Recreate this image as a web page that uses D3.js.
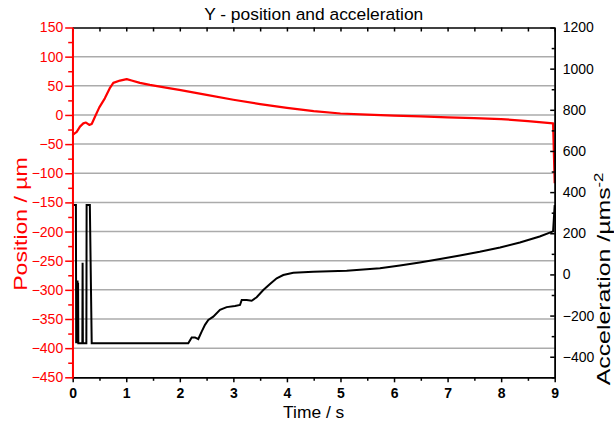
<!DOCTYPE html>
<html>
<head>
<meta charset="utf-8">
<script src="https://cdn.jsdelivr.net/npm/d3@7"></script>
<style>
  html, body { margin: 0; padding: 0; background: #fff; }
  svg { display: block; font-family: "Liberation Sans", Arial, sans-serif; }
</style>
</head>
<body>
<svg id="chart" width="614" height="426"></svg>
<script>
// Y position (µm) sampled over time (s)
const posTime = [0, 0.075, 0.136, 0.198, 0.248, 0.31, 0.355, 0.416, 0.497, 0.60, 0.69, 0.758, 0.883,
  1.008, 1.10, 1.255, 1.44, 1.63, 1.82, 1.99, 2.5, 3.0, 3.5, 4.0, 4.5, 5.0, 5.5, 6.0, 6.5, 7.0,
  7.5, 8.0, 8.5, 8.97, 9.0];
const posValue = [-34, -29, -20, -14.5, -13, -17, -15.5, -3, 13, 28.5, 45.5, 55, 59,
  61.5, 59, 55, 51.5, 48.5, 45.5, 43, 34.5, 26, 18.5, 12, 6.5, 2.5, 0.5, -1, -2.5, -4,
  -5.5, -7, -10.5, -14.5, -117];

// Y acceleration (µm s^-2) sampled over time (s)
const accTime = [0, 0.06, 0.065, 0.07, 0.075, 0.08, 0.085, 0.09, 0.095, 0.10, 0.105, 0.18, 0.185, 0.19,
  0.255, 0.26, 0.32, 0.355, 2.158, 2.222, 2.283, 2.345, 2.408, 2.470, 2.532, 2.625, 2.750, 2.875,
  3.030, 3.124, 3.156, 3.249, 3.342, 3.435, 3.559, 3.684, 3.809, 3.932, 4.119, 4.492, 5.116, 5.737,
  6.11, 6.48, 6.86, 7.23, 7.60, 7.98, 8.35, 8.72, 8.97, 9.0];
const accValue = [337, 337, -335, -40, -335, -35, -335, -30, -335, -40, -335, -335, 57, -335,
  -335, 337, 337, -335, -335, -306, -306, -314, -278, -245, -221, -205, -172, -159,
  -153, -148.5, -124, -124, -128, -111, -76, -47, -19, -3, 8, 13, 18, 30,
  43, 58, 75, 92, 110, 131, 155, 184, 209, 337];

// Axis tick values
const timeTicks = [0, 1, 2, 3, 4, 5, 6, 7, 8, 9];
const posTicks = [150, 100, 50, 0, -50, -100, -150, -200, -250, -300, -350, -400, -450];
const accTicks = [1200, 1000, 800, 600, 400, 200, 0, -200, -400];

const W = 614, H = 426;
const m = { left: 72.7, right: 59.3, top: 27.5, bottom: 48.7 };
const x0 = m.left, x1 = W - m.right, y0 = m.top, y1 = H - m.bottom;

const svg = d3.select("#chart");
const x = d3.scaleLinear().domain([0, 9]).range([x0, x1]);
const yL = d3.scaleLinear().domain([-450, 150]).range([y1, y0]);
const yR = d3.scaleLinear().domain([-500, 1200]).range([y1, y0]);

// horizontal grid at the major position ticks
svg.append("g")
  .selectAll("line")
  .data(posTicks.filter(v => v > -450 && v < 150))
  .join("line")
  .attr("x1", x0).attr("x2", x1)
  .attr("y1", d => yL(d)).attr("y2", d => yL(d))
  .attr("stroke", "#ababab").attr("stroke-width", 1.5);

// data lines
const accLine = d3.line().x((d, i) => x(accTime[i])).y(d => yR(d));
svg.append("path")
  .attr("d", accLine(accValue))
  .attr("fill", "none").attr("stroke", "#000").attr("stroke-width", 2)
  .attr("stroke-linejoin", "miter");

const posLine = d3.line().x((d, i) => x(posTime[i])).y(d => yL(d));
svg.append("path")
  .attr("d", posLine(posValue))
  .attr("fill", "none").attr("stroke", "#ff0000").attr("stroke-width", 2.2)
  .attr("stroke-linejoin", "round");

function styleAxis(g, color, fontSize, weight) {
  g.select(".domain").attr("stroke", color).attr("stroke-width", 1.5);
  g.selectAll(".tick line").attr("stroke", color).attr("stroke-width", 1.5);
  g.selectAll(".tick text").attr("fill", color)
    .style("font-size", fontSize + "px").style("font-weight", weight)
    .style("font-family", '"Liberation Sans", Arial, sans-serif');
}

// top frame with inward ticks
const gTop = svg.append("g").attr("transform", `translate(0,${y0})`)
  .call(d3.axisTop(x).tickValues(d3.range(0, 9.01, 0.5)).tickSize(-4).tickSizeOuter(0).tickFormat(""));
styleAxis(gTop, "#000", 14, "normal");

// bottom time axis
const gBotMinor = svg.append("g").attr("transform", `translate(0,${y1})`)
  .call(d3.axisBottom(x).tickValues(d3.range(0.5, 9, 1)).tickSize(3.5).tickSizeOuter(0).tickFormat(""));
styleAxis(gBotMinor, "#000", 14, "normal");
const gBot = svg.append("g").attr("transform", `translate(0,${y1})`)
  .call(d3.axisBottom(x).tickValues(timeTicks).tickSize(5).tickSizeOuter(0).tickPadding(6).tickFormat(d3.format("d")));
styleAxis(gBot, "#000", 14, "bold");

// right acceleration axis (inward ticks)
const gRMinor = svg.append("g").attr("transform", `translate(${x1},0)`)
  .call(d3.axisRight(yR).tickValues(d3.range(-500, 1200, 200)).tickSize(-3).tickSizeOuter(0).tickFormat(""));
styleAxis(gRMinor, "#000", 14, "normal");
const gR = svg.append("g").attr("transform", `translate(${x1},0)`)
  .call(d3.axisRight(yR).tickValues(accTicks).tickSize(-4.5).tickSizeOuter(0).tickPadding(8).tickFormat(d3.format("d")));
styleAxis(gR, "#000", 14, "normal");

// left position axis (red, outward ticks)
const gLMinor = svg.append("g").attr("transform", `translate(${x0},0)`)
  .call(d3.axisLeft(yL).tickValues(d3.range(-425, 150, 50)).tickSize(4.5).tickSizeOuter(0).tickFormat(""));
styleAxis(gLMinor, "#ff0000", 14, "normal");
const gL = svg.append("g").attr("transform", `translate(${x0},0)`)
  .call(d3.axisLeft(yL).tickValues(posTicks).tickSize(7.5).tickSizeOuter(0).tickPadding(2).tickFormat(d3.format("d")));
styleAxis(gL, "#ff0000", 14, "normal");
gL.select(".domain").attr("d", `M0,${y0}V${y1 + 2}`);

// titles
svg.append("text")
  .attr("x", (x0 + x1) / 2).attr("y", 20)
  .attr("text-anchor", "middle")
  .style("font-size", "17.4px").attr("fill", "#000")
  .text("Y - position and acceleration");

svg.append("text")
  .attr("x", (x0 + x1) / 2).attr("y", 418)
  .attr("text-anchor", "middle")
  .style("font-size", "17.4px").attr("fill", "#000")
  .text("Time / s");

// vertical titles are drawn stretched along their baseline
svg.append("text")
  .attr("transform", `translate(27,224) rotate(-90) scale(1.28,1)`)
  .attr("text-anchor", "middle")
  .style("font-size", "18px").attr("fill", "#ff0000")
  .text("Position / µm");

const rt = svg.append("text")
  .attr("transform", `translate(610,279) rotate(-90) scale(1.38,1)`)
  .attr("text-anchor", "middle")
  .style("font-size", "18px").attr("fill", "#000");
rt.append("tspan").text("Acceleration /µms");
rt.append("tspan").attr("dy", -7).style("font-size", "12px").text("-2");
</script>
</body>
</html>
